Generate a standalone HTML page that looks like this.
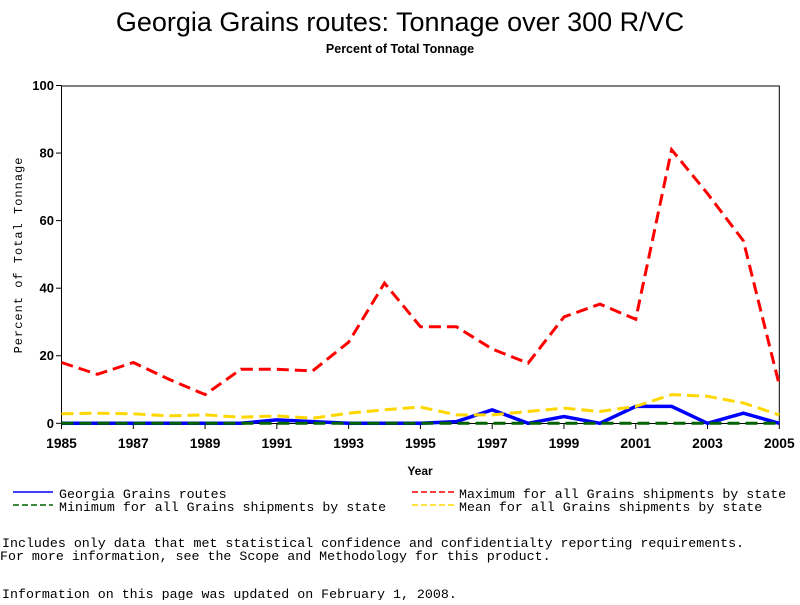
<!DOCTYPE html>
<html><head><meta charset="utf-8"><style>
body{margin:0;background:#fff;width:800px;height:600px;overflow:hidden}
svg text{font-family:"Liberation Sans",sans-serif}
</style></head><body>
<svg id="s" width="800" height="600" xmlns="http://www.w3.org/2000/svg">
<text x="400" y="31" text-anchor="middle" font-size="27">Georgia Grains routes: Tonnage over 300 R/VC</text>
<text x="400" y="53" text-anchor="middle" font-size="12.5" font-weight="bold">Percent of Total Tonnage</text>
<rect x="61.5" y="86" width="717.8" height="337.5" fill="none" stroke="#000" stroke-width="1"/>
<text transform="translate(22,255) rotate(-90)" text-anchor="middle" font-size="12" letter-spacing="1" style="font-family:'Liberation Mono',monospace">Percent of Total Tonnage</text>
<text x="420" y="475" text-anchor="middle" font-size="12" font-weight="bold">Year</text>
<g id="g"></g>
<g font-size="13.3" style="font-family:'Liberation Mono',monospace">
<line x1="13" y1="492" x2="53" y2="492" stroke="#0000ff" stroke-width="1.5"/>
<text x="59" y="498" style="font-family:'Liberation Mono',monospace">Georgia Grains routes</text>
<line x1="13" y1="505" x2="53" y2="505" stroke="#006400" stroke-width="1.5" stroke-dasharray="6,3"/>
<text x="59" y="511" style="font-family:'Liberation Mono',monospace">Minimum for all Grains shipments by state</text>
<line x1="412" y1="492" x2="455" y2="492" stroke="#ff0000" stroke-width="1.5" stroke-dasharray="6,3"/>
<text x="459" y="498" style="font-family:'Liberation Mono',monospace">Maximum for all Grains shipments by state</text>
<line x1="412" y1="505" x2="455" y2="505" stroke="#ffd700" stroke-width="1.5" stroke-dasharray="6,3"/>
<text x="459" y="511" style="font-family:'Liberation Mono',monospace">Mean for all Grains shipments by state</text>
<text x="2" y="547" style="font-family:'Liberation Mono',monospace">Includes only data that met statistical confidence and confidentialty reporting requirements.</text>
<text x="0" y="560" style="font-family:'Liberation Mono',monospace">For more information, see the Scope and Methodology for this product.</text>
<text x="2" y="598" style="font-family:'Liberation Mono',monospace">Information on this page was updated on February 1, 2008.</text>
</g>
</svg>
<script>
var g=document.getElementById('g'),ns='http://www.w3.org/2000/svg';
function X(i){return 61.5+i*35.89}function Y(v){return 423.3-v*3.378}
function el(t,a,txt){var e=document.createElementNS(ns,t);for(var k in a)e.setAttribute(k,a[k]);if(txt!=null)e.textContent=txt;g.appendChild(e);return e}
for(var v=0;v<=100;v+=20){var y=Y(v);el('line',{x1:56,y1:y,x2:61.5,y2:y,stroke:'#000'});el('text',{x:54,y:y+4.5,'text-anchor':'end','font-size':13,'font-weight':'bold'},v)}
for(var i=0;i<=20;i+=2){var x=X(i);el('line',{x1:x,y1:423.3,x2:x,y2:429,stroke:'#000'});el('text',{x:x,y:448,'text-anchor':'middle','font-size':13.8,'font-weight':'bold'},1985+i)}
function P(d){return d.map(function(v,i){return X(i).toFixed(1)+','+Y(v).toFixed(1)}).join(' ')}
var mx=[18,14.5,18,13,8.5,16,16,15.5,24,41.5,28.6,28.6,22,17.8,31.5,35.3,30.8,81,68,54,11.3];
var mn=[2.8,3,2.8,2.2,2.5,1.8,2.2,1.5,3,4,4.8,2.5,2.5,3.5,4.5,3.5,5,8.5,8,6,2.5];
var ga=[0,0,0,0,0,0,1,0.5,0,0,0,0.5,4,0,2,0,5,5,0,3,0];
var z=ga.map(function(){return 0});
el('polyline',{points:P(ga),fill:'none',stroke:'#0000ff','stroke-width':3.5});
el('polyline',{points:P(z),fill:'none',stroke:'#006400','stroke-width':3,'stroke-dasharray':'12,6'});
el('polyline',{points:P(mn),fill:'none',stroke:'#ffd700','stroke-width':3,'stroke-dasharray':'12,6'});
el('polyline',{points:P(mx),fill:'none',stroke:'#ff0000','stroke-width':3,'stroke-dasharray':'12,6'});
</script>
</body></html>
